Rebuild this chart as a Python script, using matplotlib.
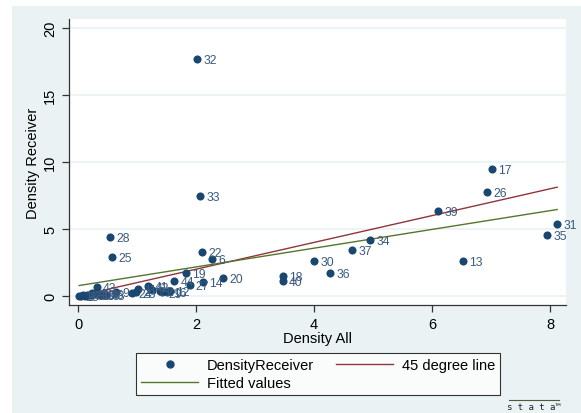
import matplotlib
matplotlib.use("Agg")
import matplotlib.pyplot as plt
from matplotlib.patches import Rectangle
from matplotlib.lines import Line2D
import numpy as np

plt.rcParams["font.family"] = ["Liberation Sans", "DejaVu Sans"]

# ---- data ----
ids = [1, 2, 3, 4, 5, 6, 7, 8, 9, 10, 11, 12, 13, 14, 15, 16, 17, 18, 19, 20,
       21, 22, 23, 24, 25, 26, 27, 28, 29, 30, 31, 32, 33, 34, 35, 36, 37, 38,
       39, 40, 41, 42, 43, 44, 45, 46, 47, 48]
density_all = [0.02, 1.39, 0.05, 0.08, 0.12, 2.27, 0.18, 0.22, 0.64, 0.28,
               1.02, 1.56, 6.53, 2.12, 0.30, 1.51, 7.02, 3.47, 1.83, 2.46,
               1.25, 2.10, 0.99, 0.91, 0.58, 6.93, 1.89, 0.54, 1.42, 4.00,
               8.12, 2.02, 2.07, 4.95, 7.95, 4.27, 4.64, 0.38, 6.10, 3.47,
               1.19, 1.21, 0.32, 1.63, 0.24, 0.44, 0.15, 0.47]
density_receiver = [0.03, 0.35, 0.02, 0.05, 0.03, 2.76, 0.06, 0.08, 0.33, 0.12,
                    0.50, 0.40, 2.61, 1.02, 0.15, 0.33, 9.48, 1.52, 1.69, 1.34,
                    0.42, 3.26, 0.27, 0.22, 2.91, 7.76, 0.85, 4.40, 0.27, 2.61,
                    5.37, 17.7, 7.46, 4.18, 4.55, 1.72, 3.43, 0.05, 6.34, 1.14,
                    0.77, 0.70, 0.65, 1.14, 0.20, 0.15, 0.10, 0.05]
fit_intercept = 0.77
fit_slope = 0.70
xticks = [0, 2, 4, 6, 8]
yticks = [0, 5, 10, 15, 20]

navy = "#1a476f"
label_col = "#3a5a80"
maroon = "#90353b"
green = "#55752f"
bg = "#eaf2f3"

W, H = 581, 414
fig = plt.figure(figsize=(W / 100, H / 100), dpi=100)
fig.patch.set_facecolor("white")
fig.patches.append(Rectangle((12 / W, 0), 1 - 12 / W, 1 - 7 / H,
                             transform=fig.transFigure, facecolor=bg,
                             edgecolor="none", zorder=-10))

ax = fig.add_axes([69 / W, 1 - 306 / H, (566 - 69) / W, (306 - 20) / H])
ax.set_facecolor("white")
ax.set_xlim(-0.153, 8.27)
ax.set_ylim(-0.67, 20.67)

for yv in yticks:
    ax.axhline(yv, color=bg, lw=1.2, zorder=0)

xs = np.array(density_all)
ys = np.array(density_receiver)
xline = np.array([xs.min(), xs.max()])

sc = ax.scatter(xs, ys, s=34, color=navy, zorder=3, linewidths=0)
for i, x, y in zip(ids, xs, ys):
    ax.annotate(str(i), (x, y), xytext=(4.5, -0.8), textcoords="offset points",
                ha="left", va="center", fontsize=8.7, color=label_col, zorder=4)

l45, = ax.plot(xline, xline, color=maroon, lw=1.0, zorder=2)
lfit, = ax.plot(xline, fit_intercept + fit_slope * xline, color=green, lw=1.0,
                zorder=2)

for s in ["top", "right"]:
    ax.spines[s].set_visible(False)
for s in ["left", "bottom"]:
    ax.spines[s].set_color("#333333")
    ax.spines[s].set_linewidth(0.9)

ax.set_xticks(xticks)
ax.set_yticks(yticks)
ax.tick_params(axis="both", direction="out", length=5, width=0.9,
               colors="#333333", labelsize=10.5, labelcolor="black")
plt.setp(ax.get_yticklabels(), rotation=90, va="center")
ax.set_xlabel("Density All", fontsize=10.5, labelpad=0)
ax.set_ylabel("Density Receiver", fontsize=10.5, labelpad=2)

h_marker = Line2D([], [], marker="o", color=navy, linestyle="none",
                  markersize=5)
h45 = Line2D([], [], color=maroon, lw=1.0)
hfit = Line2D([], [], color=green, lw=1.0)
leg = fig.legend([h_marker, hfit, h45],
                 ["DensityReceiver", "Fitted values", "45 degree line"],
                 ncol=2, loc="center", bbox_to_anchor=(318 / W, 1 - 375 / H),
                 fontsize=10.5, frameon=True, fancybox=False, edgecolor="black",
                 handlelength=3.9, handletextpad=0.6, columnspacing=1.5,
                 borderpad=0.35, labelspacing=0.25)
leg.get_frame().set_linewidth(0.8)
leg.get_frame().set_facecolor("white")

# stata logo
fig.add_artist(Line2D([509 / W, 559 / W], [1 - 401 / H, 1 - 401 / H],
                      transform=fig.transFigure, color="#4d5d3a", lw=0.8))
fig.text(534 / W, 1 - 407.5 / H, "s t a t a\u2122", ha="center", va="center",
         fontsize=6.5, color="#222222", family="DejaVu Sans Mono")

fig.savefig("out.png", dpi=100, facecolor=fig.get_facecolor())
